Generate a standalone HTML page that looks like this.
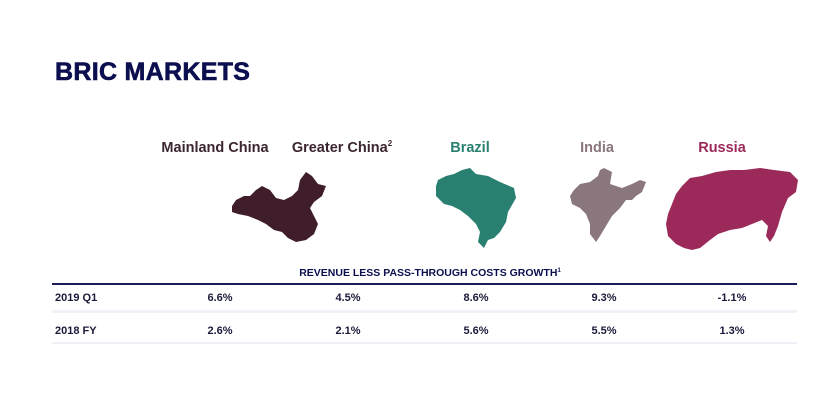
<!DOCTYPE html>
<html><head><style>
body{margin:0;width:830px;height:400px;background:#fff;font-family:"Liberation Sans",sans-serif;position:relative;overflow:hidden}
.a{position:absolute;white-space:nowrap;line-height:1}
.t{left:55px;top:60px;font-size:25px;font-weight:900;color:#0c0f4f;letter-spacing:0.3px;-webkit-text-stroke:0.6px #0c0f4f}
.l{top:141px;font-size:14.5px;font-weight:bold;transform:translateX(-50%)}
.v{font-size:11px;font-weight:bold;color:#1a1a3a;transform:translateX(-50%)}
sup{line-height:0;vertical-align:0;position:relative;top:-6px}
</style></head><body>
<div class="a t">BRIC MARKETS</div>
<div class="a l" style="left:215px;color:#3b2530">Mainland China</div>
<div class="a l" style="left:342px;color:#3b2530">Greater China<sup style="font-size:8px">2</sup></div>
<div class="a l" style="left:470px;color:#2a8070">Brazil</div>
<div class="a l" style="left:597px;color:#8a767d">India</div>
<div class="a l" style="left:722px;color:#9b2a5a">Russia</div>
<svg class="a" style="left:0;top:0" width="830" height="260">
<polygon fill="#3f1d2b" points="232,206 236,200 244,196 250,196 256,190 262,186 270,190 276,198 284,200 292,196 298,190 300,180 306,172 312,176 318,184 326,186 322,196 314,202 310,208 314,216 318,224 314,234 306,240 296,242 288,238 282,232 274,230 266,224 258,220 248,216 238,214 232,212"/>
<polygon fill="#2a8070" points="438,180 446,176 454,174 462,170 470,168 476,174 488,176 500,182 514,188 516,198 508,212 506,222 500,232 494,238 488,240 484,248 478,242 480,232 476,224 468,216 460,210 452,206 444,204 436,196 436,186"/>
<polygon fill="#8a767d" points="604,168 612,172 610,184 622,188 632,184 640,180 646,182 642,192 636,196 632,200 626,200 620,208 612,216 606,226 600,236 596,242 590,234 590,224 586,214 580,208 572,204 570,196 574,190 580,184 590,182 598,176 600,170"/>
<polygon fill="#9b2a5a" points="668,214 672,204 676,194 682,186 690,178 702,176 716,172 730,170 744,170 760,168 774,170 790,172 798,180 796,192 788,198 782,212 778,226 774,236 770,242 766,236 768,226 762,220 752,224 742,228 730,230 718,234 710,240 700,248 692,250 684,248 676,244 668,236 666,224"/>
</svg>
<div class="a" style="left:430px;top:268px;font-size:10.5px;font-weight:bold;color:#0c0f4f;transform:translateX(-50%)">REVENUE LESS PASS-THROUGH COSTS GROWTH<sup style="font-size:6px;top:-4px">1</sup></div>
<div class="a" style="left:52px;top:283px;width:745px;height:1.5px;background:#1a1d5a"></div>
<div class="a" style="left:52px;top:310px;width:745px;height:3px;background:#f3f0f8"></div>
<div class="a" style="left:52px;top:342px;width:745px;height:1.5px;background:#f1eef7"></div>
<div class="a v" style="left:55px;top:293px;transform:none">2019 Q1</div>
<div class="a v" style="left:220px;top:293px">6.6%</div>
<div class="a v" style="left:348px;top:293px">4.5%</div>
<div class="a v" style="left:476px;top:293px">8.6%</div>
<div class="a v" style="left:604px;top:293px">9.3%</div>
<div class="a v" style="left:732px;top:293px">-1.1%</div>
<div class="a v" style="left:55px;top:326px;transform:none">2018 FY</div>
<div class="a v" style="left:220px;top:326px">2.6%</div>
<div class="a v" style="left:348px;top:326px">2.1%</div>
<div class="a v" style="left:476px;top:326px">5.6%</div>
<div class="a v" style="left:604px;top:326px">5.5%</div>
<div class="a v" style="left:732px;top:326px">1.3%</div>
</body></html>
